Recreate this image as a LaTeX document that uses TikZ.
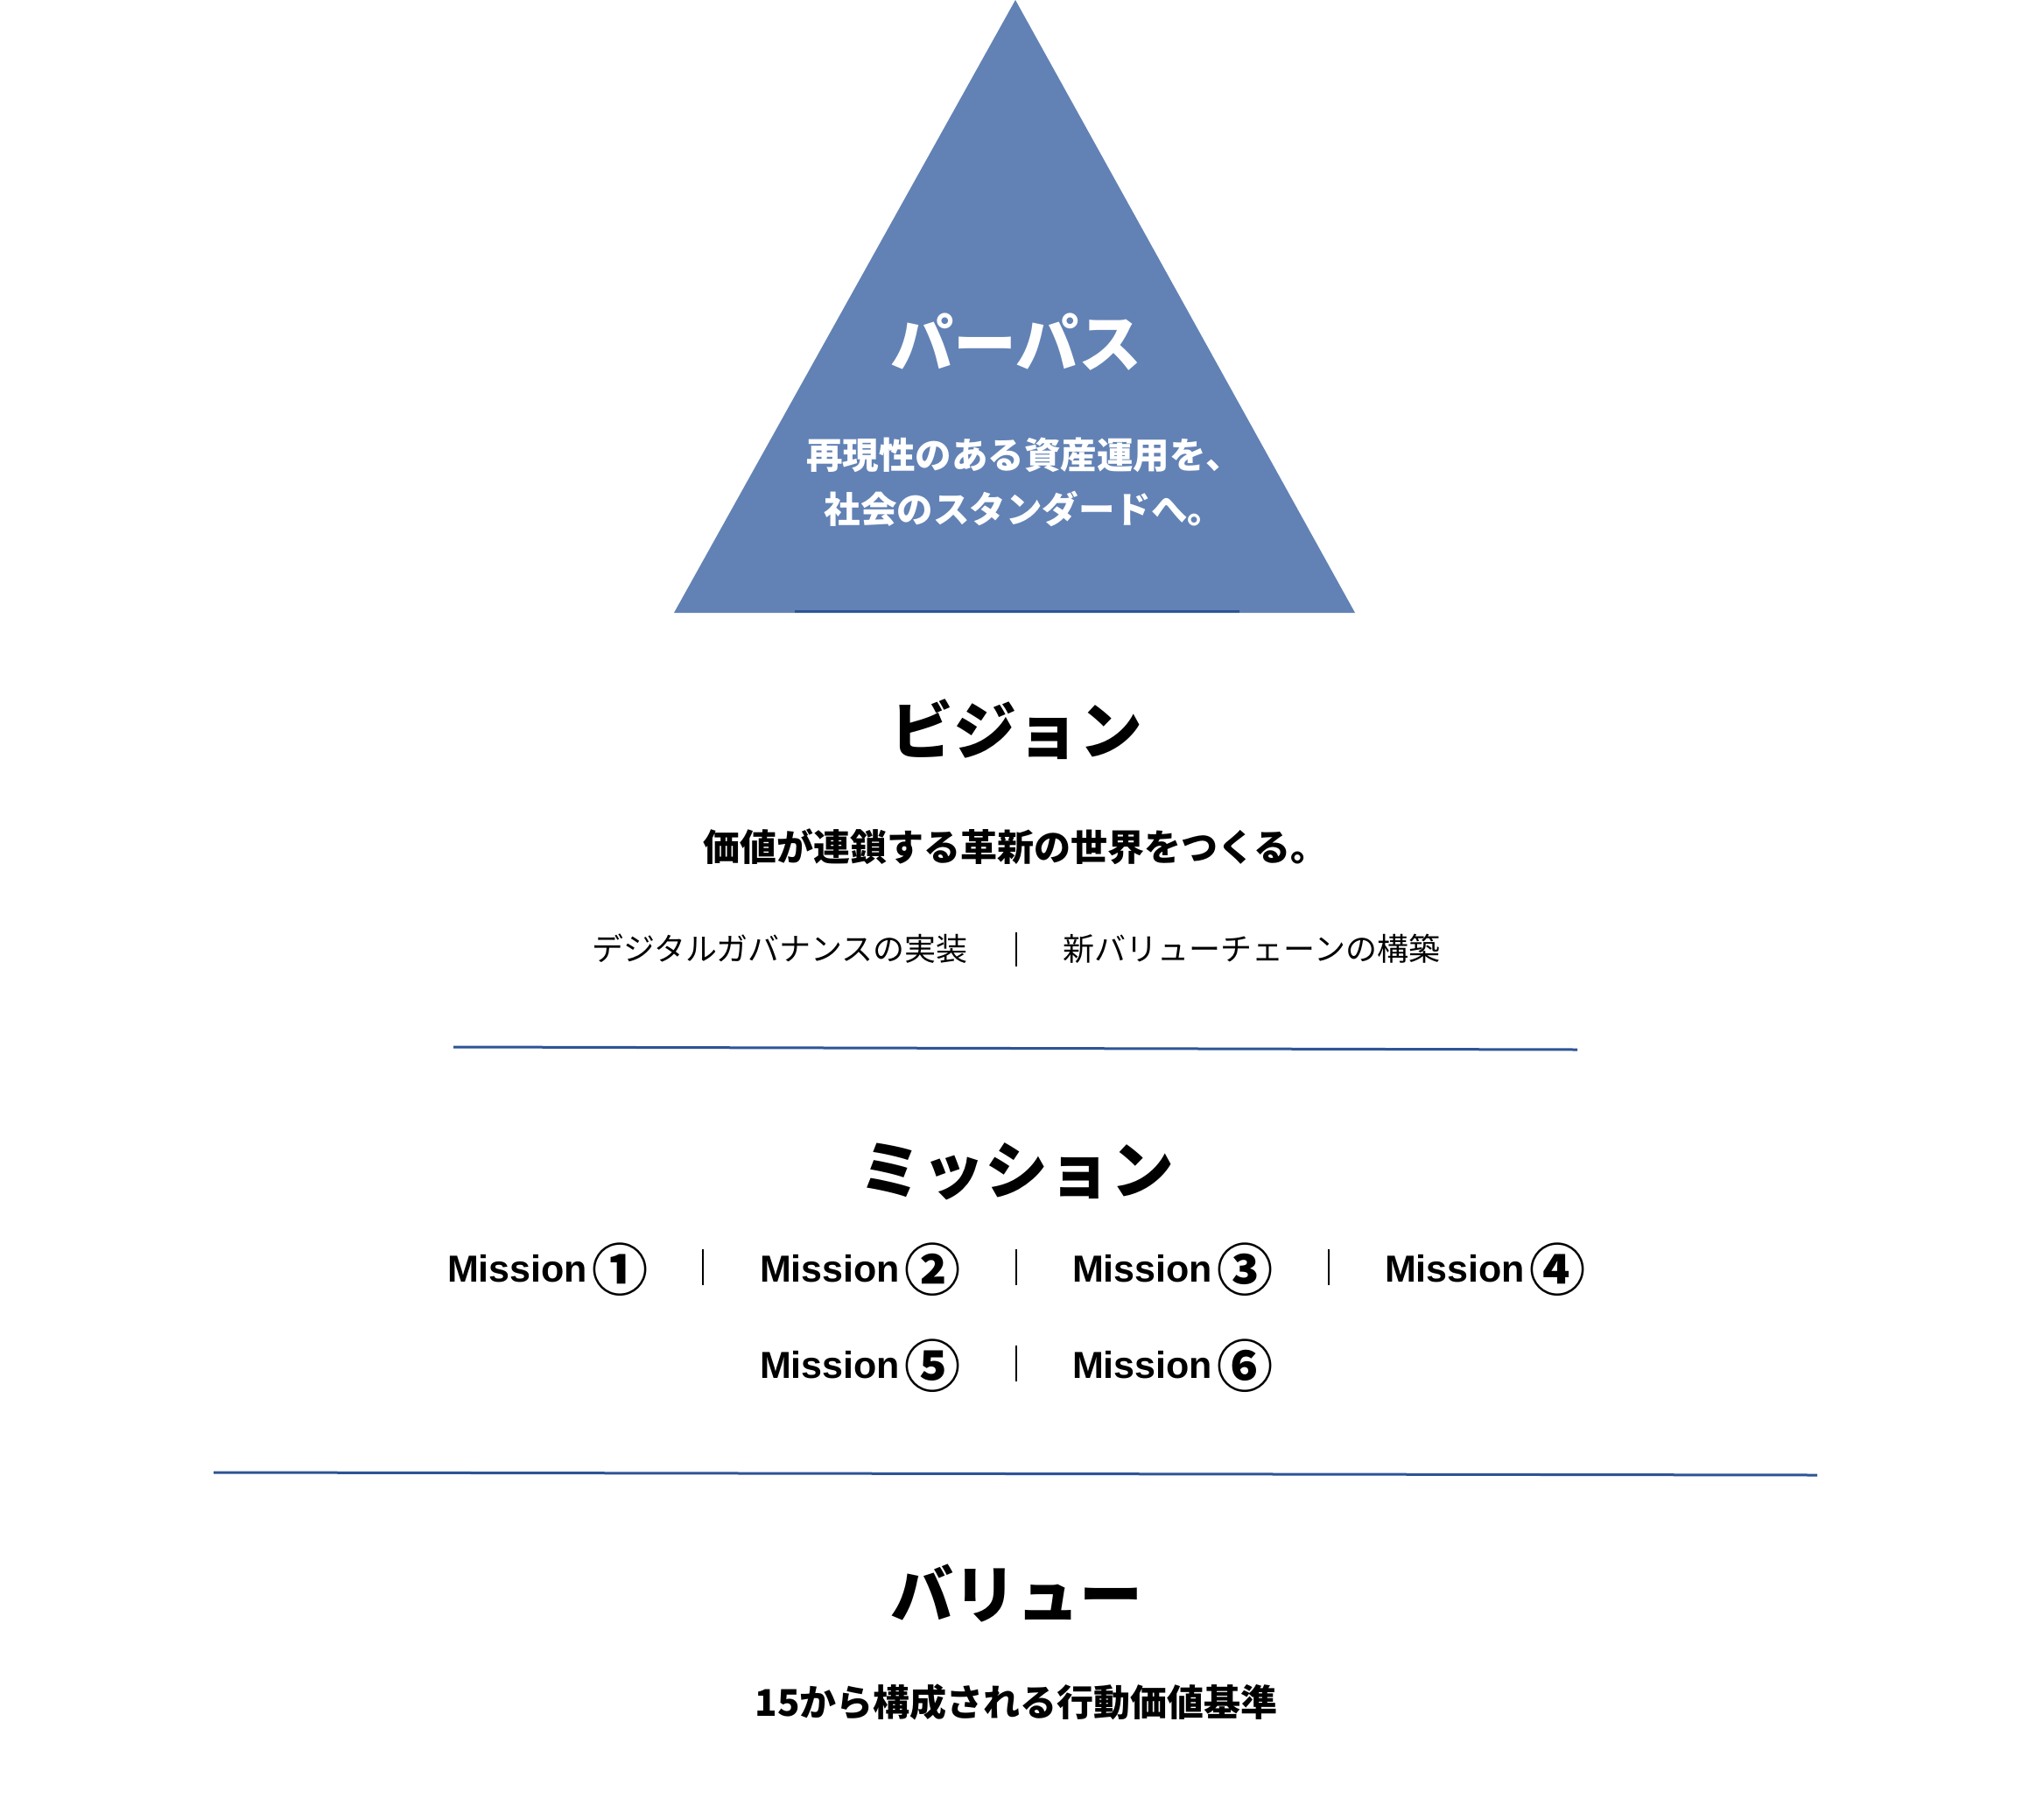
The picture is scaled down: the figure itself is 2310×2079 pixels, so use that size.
\documentclass[tikz,border=0pt]{standalone}
\usepackage{fontspec}
\newfontfamily\jp{Noto Sans CJK JP}
\newfontfamily\lat{Liberation Sans}
\definecolor{tricol}{RGB}{98,130,181}
\definecolor{rulecol}{RGB}{46,84,150}
\newcommand{\fsz}[1]{\fontsize{#1}{#1}\selectfont}
\newcommand{\cnum}[1]{\raisebox{-10pt}{\jp\bfseries\fsz{64}#1}}
\begin{document}
\begin{tikzpicture}[x=1pt,y=-1pt,
  every node/.style={inner sep=0pt, outer sep=0pt},
  head/.style={font=\jp\bfseries\fsz{72}, anchor=base},
  sub/.style={font=\jp\bfseries\fsz{42}, anchor=base},
  pur/.style={font=\jp\bfseries\fsz{41.5}, anchor=base, text=white},
  item/.style={font=\jp\fsz{36}, anchor=base},
  mis/.style={font=\lat\bfseries\fsz{43}, anchor=base west},
  sepline/.style={draw=black, line width=1.6pt},
  hrule/.style={draw=rulecol, line width=3pt}]
\fill[white] (0,0) rectangle (2310,2079);
\useasboundingbox (0,0) rectangle (2310,2079);
% triangle
\coordinate (apex) at (1160,0);
\coordinate (bl) at (770,700);
\coordinate (br) at (1548,700);
\fill[tricol] (apex) -- (br) -- (bl) -- cycle;
\coordinate (tb1) at (908,698);
\coordinate (tb2) at (1416,698);
\draw[draw=rulecol, line width=3pt] (tb1) -- (tb2);
\node[head, text=white] (purpose) at (1161,419) {パーパス};
\node[pur] (p1) at (1170,535) {再現性のある資産運用を、};
\node[pur] (p2) at (1170,597) {社会のスタンダードへ。};
% vision
\node[head] (vision) at (1161,861) {ビジョン};
\node[sub] (vsub) at (1160,983) {価値が連鎖する革新の世界をつくる。};
\node[item] (v1) at (891,1097) {デジタルガバナンスの実装};
\node[item] (v2) at (1430,1097) {新バリューチェーンの構築};
\coordinate (vs1) at (1161,1065);
\coordinate (vs2) at (1161,1104);
\draw[sepline] (vs1) -- (vs2);
% rule 1
\coordinate (r1a) at (518,1196);
\coordinate (r1b) at (1802,1199);
\draw[hrule] (r1a) -- (r1b);
% mission
\node[head] (mission) at (1161,1363) {ミッション};
\node[mis] (m1) at (511,1464) {Mission\hspace{5pt}\cnum{①}};
\node[mis] (m2) at (868,1464) {Mission\hspace{5pt}\cnum{②}};
\node[mis] (m3) at (1225,1464) {Mission\hspace{5pt}\cnum{③}};
\node[mis] (m4) at (1582,1464) {Mission\hspace{5pt}\cnum{④}};
\node[mis] (m5) at (868,1574) {Mission\hspace{5pt}\cnum{⑤}};
\node[mis] (m6) at (1225,1574) {Mission\hspace{5pt}\cnum{⑥}};
\foreach \n/\x/\y in {a/803/1427, b/1161/1427, c/1518/1427, d/1161/1537}{
  \coordinate (s\n1) at (\x,\y);
  \coordinate (s\n2) at (\x,\y+41);
  \draw[sepline] (s\n1) -- (s\n2);
}
% rule 2
\coordinate (r2a) at (244,1682);
\coordinate (r2b) at (2076,1685);
\draw[hrule] (r2a) -- (r2b);
% value
\node[head] (value) at (1161,1848) {バリュー};
\node[sub] (valsub) at (1161,1960) {15から構成される行動価値基準};
\end{tikzpicture}
\end{document}
